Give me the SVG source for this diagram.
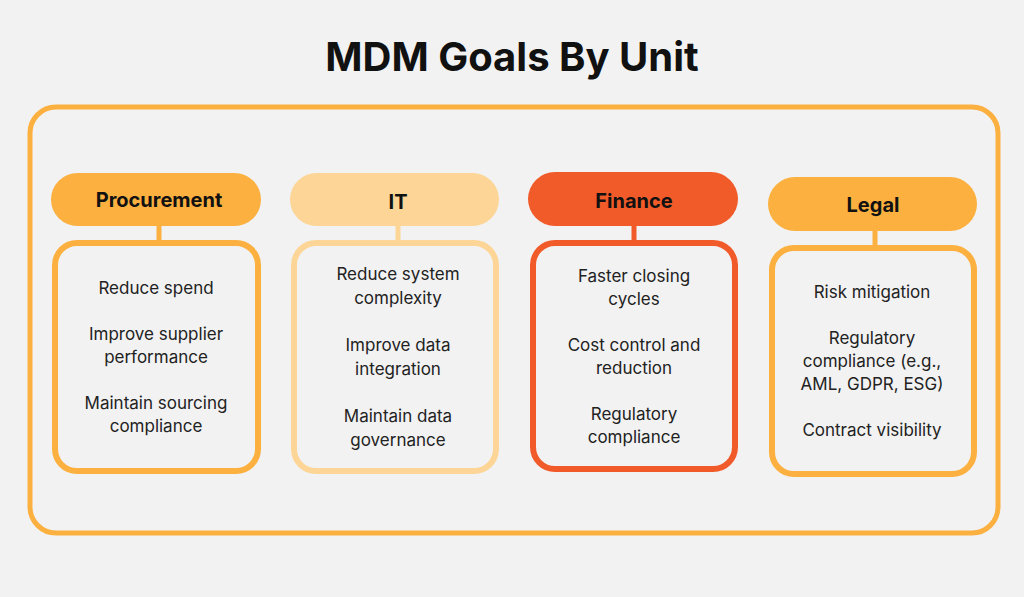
<svg xmlns="http://www.w3.org/2000/svg" width="1024" height="597" viewBox="0 0 1024 597">
<style>
.t{font-family:Inter,"Liberation Sans",sans-serif;font-size:17px;fill:#222;text-anchor:middle}
.h{font-family:Inter,"Liberation Sans",sans-serif;font-size:20px;font-weight:700;fill:#111;text-anchor:middle}
.box{fill:none;stroke-width:6}
</style>
<rect width="1024" height="597" fill="#f2f2f2"/>
<text x="512" y="71" font-family="Inter,'Liberation Sans',sans-serif" font-size="40" font-weight="700" text-anchor="middle" fill="#111">MDM Goals By Unit</text>
<rect x="30" y="107" width="968" height="426" rx="26" fill="none" stroke="#fbb040" stroke-width="5"/>
<g id="connectors" stroke-width="5">
<line x1="159" y1="226" x2="159" y2="242" stroke="#fbb040"/>
<line x1="398" y1="226" x2="398" y2="242" stroke="#fdd697"/>
<line x1="634" y1="226" x2="634" y2="242" stroke="#f15a29"/>
<line x1="875" y1="231" x2="875" y2="247" stroke="#fbb040"/>
</g>
<g id="procurement">
<rect x="51" y="173" width="210" height="53" rx="26.5" fill="#fbb040"/>
<text class="h" x="159" y="207">Procurement</text>
<rect class="box" x="55" y="243" width="203" height="228" rx="22" stroke="#fbb040"/>
<text class="t" x="156" y="294">Reduce spend</text>
<text class="t" x="156" y="340">Improve supplier</text>
<text class="t" x="156" y="363">performance</text>
<text class="t" x="156" y="409">Maintain sourcing</text>
<text class="t" x="156" y="432">compliance</text>
</g>
<g id="it">
<rect x="290" y="173" width="209" height="53" rx="26.5" fill="#fdd697"/>
<text class="h" x="398" y="209">IT</text>
<rect class="box" x="294" y="243" width="202" height="228" rx="22" stroke="#fdd697"/>
<text class="t" x="398" y="280">Reduce system</text>
<text class="t" x="398" y="304">complexity</text>
<text class="t" x="398" y="351">Improve data</text>
<text class="t" x="398" y="375">integration</text>
<text class="t" x="398" y="422">Maintain data</text>
<text class="t" x="398" y="446">governance</text>
</g>
<g id="finance">
<rect x="528" y="172" width="210" height="54" rx="27" fill="#f15a29"/>
<text class="h" x="634" y="208">Finance</text>
<rect class="box" x="533" y="243" width="202" height="226" rx="22" stroke="#f15a29"/>
<text class="t" x="634" y="282">Faster closing</text>
<text class="t" x="634" y="305">cycles</text>
<text class="t" x="634" y="351">Cost control and</text>
<text class="t" x="634" y="374">reduction</text>
<text class="t" x="634" y="420">Regulatory</text>
<text class="t" x="634" y="443">compliance</text>
</g>
<g id="legal">
<rect x="768" y="177" width="209" height="54" rx="27" fill="#fbb040"/>
<text class="h" x="873" y="212">Legal</text>
<rect class="box" x="772" y="248" width="202" height="226" rx="22" stroke="#fbb040"/>
<text class="t" x="872" y="298">Risk mitigation</text>
<text class="t" x="872" y="344">Regulatory</text>
<text class="t" x="872" y="367">compliance (e.g.,</text>
<text class="t" x="872" y="390">AML, GDPR, ESG)</text>
<text class="t" x="872" y="436">Contract visibility</text>
</g>
</svg>
